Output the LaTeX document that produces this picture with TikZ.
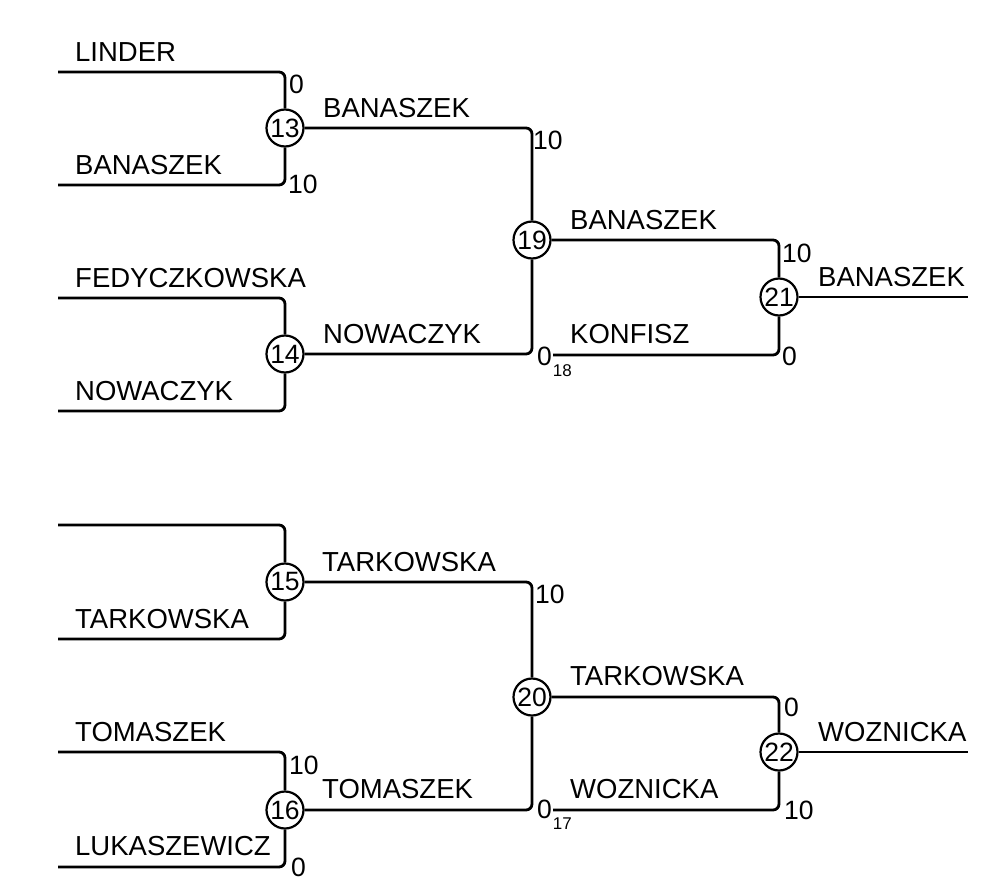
\documentclass[tikz,border=0pt]{standalone}
\usepackage{fontspec}
\setmainfont{Liberation Sans}
\newcommand\namesize{\fontsize{27.5}{30}\selectfont}
\newcommand\scoresize{\fontsize{26.5}{28}\selectfont}
\newcommand\subsize{\fontsize{17}{18}\selectfont}

\begin{document}
\begin{tikzpicture}[
  x=1pt,y=-1pt,
  match/.style={draw,circle,line width=2.2pt,minimum size=37pt,inner sep=0pt,
                font=\scoresize},
  player/.style={anchor=base west,inner sep=0pt,font=\namesize},
  score/.style={anchor=base west,inner sep=0pt,font=\scoresize},
  wire/.style={line width=2.8pt,rounded corners=6pt}
]
\useasboundingbox (0,0) rectangle (983,881);

\node[match] (g13) at (285,128) {13};
\node[match] (g14) at (285,354) {14};
\node[match] (g19) at (532,240) {19};
\node[match] (g21) at (779,297) {21};
\node[match] (g15) at (285,582) {15};
\node[match] (g16) at (285,810) {16};
\node[match] (g20) at (532,697) {20};
\node[match] (g22) at (779,752) {22};

\coordinate (linder) at (58,72);
\coordinate (banaszek) at (58,185);
\coordinate (fedyczkowska) at (58,298);
\coordinate (nowaczyk) at (58,411);
\coordinate (konfisz) at (553,355);
\coordinate (champtop) at (968,297);
\coordinate (bye) at (58,525);
\coordinate (tarkowska) at (58,639);
\coordinate (tomaszek) at (58,752);
\coordinate (lukaszewicz) at (58,867);
\coordinate (woznicka) at (553,810);
\coordinate (champbot) at (968,752);

\draw[wire] (linder) -| (g13);
\draw[wire] (banaszek) -| (g13);
\draw[wire] (fedyczkowska) -| (g14);
\draw[wire] (nowaczyk) -| (g14);
\draw[wire] (g13) -| (g19);
\draw[wire] (g14) -| (g19);
\draw[wire] (g19) -| (g21);
\draw[wire] (konfisz) -| (g21);
\draw[wire] (g21) -- (champtop);
\draw[wire] (bye) -| (g15);
\draw[wire] (tarkowska) -| (g15);
\draw[wire] (tomaszek) -| (g16);
\draw[wire] (lukaszewicz) -| (g16);
\draw[wire] (g15) -| (g20);
\draw[wire] (g16) -| (g20);
\draw[wire] (g20) -| (g22);
\draw[wire] (woznicka) -| (g22);
\draw[wire] (g22) -- (champbot);

\node[player] (n1) at (75,61) {LINDER};
\node[player] (n2) at (75,174) {BANASZEK};
\node[player] (n3) at (75,287) {FEDYCZKOWSKA};
\node[player] (n4) at (75,400) {NOWACZYK};
\node[player] (n5) at (323,117) {BANASZEK};
\node[player] (n6) at (323,343) {NOWACZYK};
\node[player] (n7) at (570,229) {BANASZEK};
\node[player] (n8) at (570,343) {KONFISZ};
\node[player] (n9) at (818,286) {BANASZEK};
\node[player] (n10) at (75,628) {TARKOWSKA};
\node[player] (n11) at (75,741) {TOMASZEK};
\node[player] (n12) at (75,855) {LUKASZEWICZ};
\node[player] (n13) at (322,571) {TARKOWSKA};
\node[player] (n14) at (322,798) {TOMASZEK};
\node[player] (n15) at (570,685) {TARKOWSKA};
\node[player] (n16) at (570,798) {WOZNICKA};
\node[player] (n17) at (818,741) {WOZNICKA};

\node[score] (s1) at (289,93) {0};
\node[score] (s2) at (288,193) {10};
\node[score] (s3) at (533,149) {10};
\node[score] (s4) at (537,365) {0\kern1pt\raisebox{-11pt}{\subsize 18}};
\node[score] (s5) at (782,262) {10};
\node[score] (s6) at (782,365) {0};
\node[score] (s7) at (535,603) {10};
\node[score] (s8) at (537,818) {0\kern1pt\raisebox{-11pt}{\subsize 17}};
\node[score] (s9) at (289,774) {10};
\node[score] (s10) at (291,876) {0};
\node[score] (s11) at (784,716) {0};
\node[score] (s12) at (784,819) {10};
\end{tikzpicture}
\end{document}
